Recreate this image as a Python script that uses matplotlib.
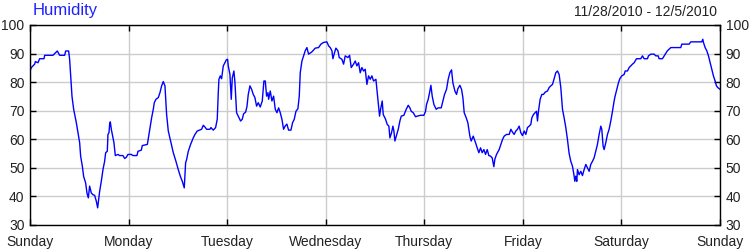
import numpy as np
import matplotlib.pyplot as plt

# =========================
# DATA (hours since Sunday 0:00, relative humidity %)
# =========================
hours = [
    0.0, 0.32, 1.14, 1.30, 1.95, 2.35, 3.41, 3.57, 5.6, 6.0, 6.65, 7.22, 8.44, 8.68, 9.41,
    9.65, 9.9, 10.22, 10.63, 11.28, 11.68, 12.09, 12.33, 12.74, 13.06, 13.55, 13.87, 14.2,
    14.52, 14.93, 15.33, 15.74, 16.15, 16.47, 16.71, 16.96, 17.36, 17.77, 18.17, 18.42,
    18.82, 18.98, 19.23, 19.39, 19.55, 19.8, 20.04, 20.44, 20.77, 21.42, 21.82, 22.64,
    23.04, 23.45, 23.85, 24.66, 25.07, 26.04, 26.29, 27.1, 27.34, 28.56,
    28.64, 28.96, 29.29, 29.61, 30.02, 30.26, 30.67, 31.24, 31.64, 32.05, 32.45, 32.86,
    33.26, 33.67, 34.32, 34.89, 35.53, 36.1, 36.59, 37.08, 37.56, 37.89, 38.13, 38.54,
    39.1, 39.75, 40.16, 40.73, 41.78, 42.19, 42.59, 43.0, 43.81, 44.05, 44.62, 45.19,
    45.59, 45.84, 46.0, 46.33, 46.65, 47.06, 47.46, 47.79, 48.11, 48.27, 48.68, 49.0,
    49.25, 49.65, 49.9, 50.3, 50.71, 51.27, 51.68, 52.0, 52.49, 52.82, 53.14, 53.55,
    53.95, 54.36, 54.76, 55.17, 55.57, 56.06, 56.55, 56.95,
    57.28, 57.61, 57.93, 58.1, 58.5, 58.9, 59.31, 59.72, 60.12, 60.53, 60.93, 61.34,
    61.74, 62.15, 62.55, 62.96, 63.53, 63.93, 64.34, 64.75, 65.23, 65.56, 65.8, 66.21,
    66.61, 67.02, 67.42, 67.83, 68.64, 69.45, 70.26, 70.83, 71.48, 72.29, 72.7, 73.1,
    73.51, 73.75, 74.16, 74.48, 74.97, 75.29, 75.94, 76.35, 76.75, 77.4, 77.81, 78.21,
    78.78, 79.19, 79.59, 80.0, 80.4, 80.81, 81.22, 81.62, 82.03, 82.43, 82.84, 83.24,
    83.65, 84.22, 84.54, 84.87, 85.11,
    85.36, 85.76, 86.0, 86.57, 86.98, 87.38, 87.63, 88.03, 88.36, 88.6, 88.84, 89.17,
    89.66, 90.06, 90.39, 91.03, 91.6, 92.09, 92.5, 92.82, 93.31, 93.87, 94.28, 95.09,
    95.9, 96.31, 96.55, 96.96, 97.28, 97.61, 97.93, 98.34, 98.9, 99.39, 100.12, 100.53,
    100.93, 101.42, 101.82, 102.23, 102.64, 102.96, 103.45, 103.85, 104.18, 104.66,
    105.07, 105.4, 105.72, 106.21, 106.61, 107.1, 107.42, 107.91, 108.48, 108.88,
    109.29, 109.7, 110.1, 110.51, 110.91, 111.32, 111.72, 112.13, 112.53, 112.94,
    113.18, 113.59,
    114.23, 114.64, 115.04, 115.45, 116.02, 116.67, 117.07, 117.48, 117.88, 118.29,
    118.69, 119.1, 119.5, 119.91, 120.32, 120.72, 121.13, 121.53, 121.94, 122.18,
    122.59, 122.99, 123.32, 123.56, 123.8, 124.21, 124.62, 125.02, 125.43, 125.99,
    126.4, 126.81, 127.21, 127.62, 128.02, 128.43, 128.83, 129.24, 129.65, 130.05,
    130.46, 130.86, 131.27, 131.67, 132.08, 132.49, 132.65, 132.89, 133.13, 133.3,
    133.7, 134.11, 134.51, 134.92, 135.33, 135.73, 136.14, 136.54, 136.95, 137.35,
    137.76, 138.16, 138.57, 138.98, 139.22, 139.54, 139.79, 140.19, 140.6, 141.0,
    141.41, 141.82, 142.22, 142.46,
    142.88, 143.28, 143.61, 144.09, 144.66, 144.91, 145.47, 145.88, 146.28, 146.69,
    147.1, 147.66, 148.72, 149.12, 149.53, 150.34, 150.58, 151.15, 151.96, 152.37,
    152.94, 153.18, 153.99, 154.4, 154.8, 155.21, 156.02, 158.45, 158.7, 160.48,
    160.89, 163.56, 163.81, 163.97, 164.38, 164.78, 165.19, 165.59, 166.0, 166.4,
    166.81, 167.14, 167.46, 168.0,
]
humidity = [
    83.9, 85.1, 86.3, 87.2, 86.8, 88.2, 88.2, 89.4, 89.4, 90.0, 90.9, 89.4, 89.4, 90.9, 90.9,
    88.0, 82.2, 75.1, 70.5, 65.8, 62.3, 58.8, 54.1, 50.6, 47.0, 44.7, 41.2, 39.5,
    43.6, 41.2, 40.6, 40.4, 38.3, 36.0, 38.9, 41.8, 45.3, 49.4, 52.3, 55.3,
    55.8, 61.7, 62.3, 65.2, 66.1, 63.5, 61.7, 58.8, 54.3, 54.7, 54.3, 54.3,
    53.3, 53.7, 54.7, 54.7, 54.3, 54.3, 55.8, 56.2, 57.8, 58.2,
    58.8, 61.7, 64.6, 67.5, 70.5, 72.8, 74.0, 74.6, 76.3, 78.7, 80.2, 78.7,
    68.7, 62.9, 58.8, 55.3, 52.3, 49.4, 47.1, 45.3, 43.0, 51.8, 52.9, 55.8,
    58.2, 60.5, 61.7, 62.9, 63.5, 64.9, 64.3, 63.5, 63.5, 64.1, 63.2, 64.1,
    67.0, 76.3, 81.0, 82.2, 81.2, 85.7, 86.8, 87.8, 88.0, 85.7, 82.7, 74.0,
    81.5, 83.9, 79.8, 69.3, 68.1, 66.4, 67.0, 68.9, 69.5, 71.4, 75.7, 78.7,
    77.5, 75.7, 74.6, 71.6, 72.8, 71.3, 73.4, 80.4,
    80.4, 75.1, 76.3, 74.0, 76.9, 73.4, 75.1, 70.5, 69.3, 71.0, 69.3, 67.0,
    63.5, 64.7, 65.3, 63.2, 63.2, 65.8, 67.0, 69.8, 70.7, 75.1, 83.3, 87.4,
    89.2, 91.0, 92.1, 89.8, 90.6, 91.9, 92.1, 93.3, 93.9, 94.1, 92.7, 92.1,
    91.0, 88.2, 90.4, 91.9, 91.0, 88.6, 88.0, 86.3, 89.2, 88.6, 89.4, 85.1,
    86.3, 87.4, 85.7, 86.8, 83.3, 85.1, 83.9, 84.5, 79.2, 82.2, 81.0, 82.2,
    80.4, 81.0, 76.3, 71.6, 68.1,
    70.5, 73.4, 68.7, 67.0, 65.2, 64.6, 60.5, 62.3, 64.6, 62.9, 59.4, 61.1,
    63.5, 66.4, 68.1, 68.4, 70.5, 71.9, 71.0, 69.8, 69.3, 67.9, 68.1, 68.4,
    68.4, 69.8, 72.2, 74.0, 76.3, 78.9, 75.1, 72.2, 70.5, 71.0, 71.0, 73.4,
    75.7, 77.5, 81.0, 83.3, 84.3, 79.8, 76.9, 75.7, 77.7, 78.9,
    77.5, 74.6, 69.3, 67.5, 65.8, 61.1, 59.4, 61.1, 58.8, 57.0,
    55.3, 57.0, 55.3, 56.4, 54.7, 56.4, 54.3, 54.1, 53.5, 50.4,
    53.0, 54.7,
    56.4, 58.2, 59.9, 61.1, 61.7, 61.7, 63.5, 62.5, 61.7, 62.9,
    63.5, 64.6, 62.3, 61.3, 62.9, 61.7, 64.1, 64.6, 65.2, 67.5,
    68.7, 69.3, 69.8, 66.4, 69.8, 74.0, 75.7, 75.7, 76.5, 76.9,
    78.1, 78.7, 79.2, 81.2, 83.3, 83.9, 82.7, 78.1, 70.5, 67.5,
    64.1, 59.9, 55.0, 52.3, 50.6, 47.1, 45.3, 47.1, 45.3, 49.4,
    47.6, 48.8, 47.3, 49.4, 51.2, 50.0, 48.8, 51.2, 52.3, 53.5,
    55.8, 58.2, 61.7, 64.6, 63.5, 57.6, 56.4, 58.8, 61.7, 63.5,
    66.4, 69.8, 73.4, 75.1,
    77.5, 79.8, 81.2, 82.2, 82.7, 83.9, 83.9, 85.1, 85.7, 86.3,
    86.8, 88.2, 88.2, 89.2, 88.2, 88.2, 89.2, 89.8, 89.8, 89.2,
    89.2, 88.2, 88.2, 89.2, 90.1, 91.0, 92.1, 92.1, 93.3, 93.3,
    94.1, 94.1, 95.0, 93.9, 92.1, 91.0, 89.2, 86.8, 84.5, 82.2,
    80.4, 78.7, 78.1, 77.5,
]

day_labels = ["Sunday", "Monday", "Tuesday", "Wednesday", "Thursday", "Friday", "Saturday", "Sunday"]
y_ticks = [30, 40, 50, 60, 70, 80, 90, 100]
title = "Humidity"
date_range = "11/28/2010 - 12/5/2010"

# =========================
# PLOT
# =========================
plt.rcParams['font.family'] = ['Liberation Sans', 'DejaVu Sans']

fig = plt.figure(figsize=(7.5, 2.5), dpi=100)
ax = fig.add_axes([30 / 750, 25 / 250, 690 / 750, 200 / 250])

ax.plot(hours, humidity, color='#0000ff', lw=1.0)

ax.set_xlim(0, 168)
ax.set_ylim(30, 100)
ax.set_xticks(np.arange(0, 169, 24))
ax.set_xticklabels(day_labels)
ax.set_yticks(y_ticks)

ax.grid(True, color='#cccccc', lw=1.0)
ax.set_axisbelow(True)

ax.tick_params(axis='both', direction='in', length=4, width=1, colors='black',
               labelsize=10, labelcolor='#222222')
ax.tick_params(axis='x', top=True, bottom=True, pad=7)
ax.tick_params(axis='y', left=True, right=True, labelleft=True, labelright=True, pad=4)

for sp in ax.spines.values():
    sp.set_color('black')
    sp.set_linewidth(1.0)

fig.text(33 / 750, 1 - 3 / 250, title, color='#2020ff', fontsize=12, ha='left', va='top')
fig.text(717 / 750, 1 - 5 / 250, date_range, color='#222222', fontsize=10, ha='right', va='top')

fig.savefig("out.png", dpi=100)
